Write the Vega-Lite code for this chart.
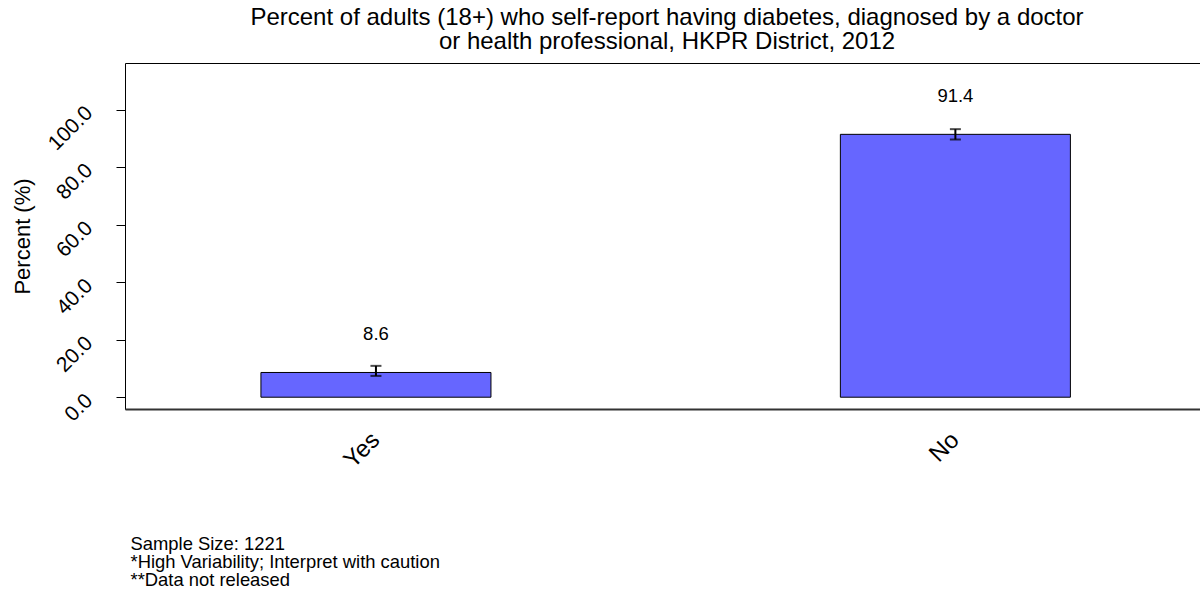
{
  "$schema": "https://vega.github.io/schema/vega-lite/v6.json",
  "autosize": "none",
  "width": 1076,
  "height": 346,
  "padding": {"left": 125, "top": 63, "right": 0, "bottom": 181},
  "background": "white",
  "title": {
    "text": ["Percent of adults (18+) who self-report having diabetes, diagnosed by a doctor", "or health professional, HKPR District, 2012"],
    "frame": "group",
    "anchor": "middle",
    "baseline": "bottom",
    "offset": 10,
    "dx": 4,
    "dy": 25,
    "fontSize": 24,
    "fontWeight": "normal",
    "lineHeight": 24.5,
    "font": "Liberation Sans",
    "color": "black"
  },
  "data": {
    "values": [
      {"category": "Yes", "value": 8.6, "lower": 7.4, "upper": 10.9},
      {"category": "No", "value": 91.4, "lower": 89.6, "upper": 93.2}
    ]
  },
  "encoding": {
    "x": {
      "field": "category",
      "type": "nominal",
      "sort": ["Yes", "No"],
      "scale": {"paddingInner": 0.603, "paddingOuter": 0.23, "align": 0.51},
      "axis": {
        "title": ["Sample Size: 1221", "*High Variability; Interpret with caution", "**Data not released"],
        "titleFontSize": 18.4,
        "titleFontWeight": "normal",
        "titleFont": "Liberation Sans",
        "titleColor": "black",
        "titleLineHeight": 18,
        "titleAnchor": "start",
        "titleAlign": "left",
        "titleBaseline": "alphabetic",
        "titleX": 5,
        "titleY": 140,
        "labelAngle": -45,
        "labelAlign": "right",
        "labelBaseline": "middle",
        "labelFontSize": 24,
        "labelFont": "Liberation Sans",
        "labelColor": "black",
        "labelPadding": 27,
        "ticks": false,
        "domainColor": "#333333",
        "domainWidth": 2
      }
    }
  },
  "layer": [
    {
      "mark": {"type": "bar", "fill": "#6666FF", "stroke": "black", "strokeWidth": 1},
      "encoding": {
        "y": {
          "field": "value",
          "type": "quantitative",
          "scale": {"domain": [-4.1, 116.2], "nice": false, "zero": false},
          "axis": {
            "title": "Percent (%)",
            "titleFontSize": 22,
            "titleFontWeight": "normal",
            "titleFont": "Liberation Sans",
            "titleColor": "black",
            "titleX": -103,
            "titleY": 173,
            "titleAngle": -90,
            "titleAlign": "center",
            "titleBaseline": "middle",
            "values": [0, 20, 40, 60, 80, 100],
            "format": ".1f",
            "labelAngle": -45,
            "labelAlign": "right",
            "labelBaseline": "middle",
            "labelFontSize": 21,
            "labelFont": "Liberation Sans",
            "labelColor": "black",
            "labelPadding": 27,
            "tickSize": 9,
            "tickColor": "black",
            "domain": false,
            "grid": false
          }
        },
        "y2": {"datum": 0}
      }
    },
    {
      "mark": {"type": "rule", "color": "black", "strokeWidth": 2},
      "encoding": {
        "y": {"field": "lower", "type": "quantitative"},
        "y2": {"field": "upper"}
      }
    },
    {
      "mark": {"type": "tick", "color": "black", "thickness": 2, "size": 11},
      "encoding": {"y": {"field": "lower", "type": "quantitative"}}
    },
    {
      "mark": {"type": "tick", "color": "black", "thickness": 2, "size": 11},
      "encoding": {"y": {"field": "upper", "type": "quantitative"}}
    },
    {
      "mark": {"type": "text", "fontSize": 18.5, "font": "Liberation Sans", "color": "black", "baseline": "alphabetic", "dy": -32},
      "encoding": {
        "y": {"field": "value", "type": "quantitative"},
        "text": {"field": "value", "type": "quantitative", "format": ".1f"}
      }
    }
  ],
  "config": {
    "view": {"stroke": "black", "strokeWidth": 1},
    "axis": {"labelFont": "Liberation Sans", "titleFont": "Liberation Sans"}
  }
}
